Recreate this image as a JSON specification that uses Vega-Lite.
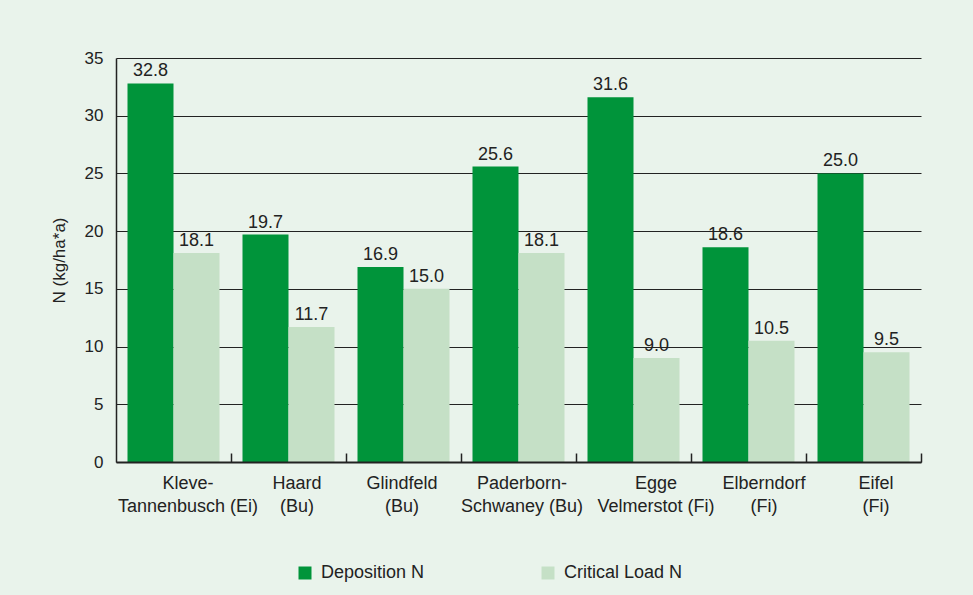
{
  "$schema": "https://vega.github.io/schema/vega-lite/v6.json",
  "width": 805,
  "height": 404,
  "autosize": {"type": "none"},
  "padding": {"left": 116, "top": 58, "right": 52, "bottom": 133},
  "background": "#e9f3eb",
  "config": {"view": {"stroke": null}, "font": "Liberation Sans"},
  "data": {
    "values": [
      {"site": "Kleve-|Tannenbusch (Ei)", "measure": "Deposition N", "value": 32.8},
      {"site": "Kleve-|Tannenbusch (Ei)", "measure": "Critical Load N", "value": 18.1},
      {"site": "Haard|(Bu)", "measure": "Deposition N", "value": 19.7},
      {"site": "Haard|(Bu)", "measure": "Critical Load N", "value": 11.7},
      {"site": "Glindfeld|(Bu)", "measure": "Deposition N", "value": 16.9},
      {"site": "Glindfeld|(Bu)", "measure": "Critical Load N", "value": 15.0},
      {"site": "Paderborn-|Schwaney (Bu)", "measure": "Deposition N", "value": 25.6},
      {"site": "Paderborn-|Schwaney (Bu)", "measure": "Critical Load N", "value": 18.1},
      {"site": "Egge|Velmerstot (Fi)", "measure": "Deposition N", "value": 31.6},
      {"site": "Egge|Velmerstot (Fi)", "measure": "Critical Load N", "value": 9.0},
      {"site": "Elberndorf|(Fi)", "measure": "Deposition N", "value": 18.6},
      {"site": "Elberndorf|(Fi)", "measure": "Critical Load N", "value": 10.5},
      {"site": "Eifel|(Fi)", "measure": "Deposition N", "value": 25.0},
      {"site": "Eifel|(Fi)", "measure": "Critical Load N", "value": 9.5}
    ]
  },
  "encoding": {
    "x": {
      "field": "site",
      "type": "nominal",
      "sort": null,
      "scale": {"paddingInner": 0.2, "paddingOuter": 0.1},
      "axis": {
        "title": null,
        "zindex": 1,
        "labelAngle": 0,
        "labelExpr": "split(datum.label, '|')",
        "labelFontSize": 18,
        "labelLineHeight": 23,
        "labelPadding": 21,
        "labelBaseline": "top",
        "labelOffset": {
          "condition": [
            {"test": "datum.value == 'Kleve-|Tannenbusch (Ei)'", "value": -43.5},
            {"test": "datum.value == 'Haard|(Bu)'", "value": -49.5},
            {"test": "datum.value == 'Glindfeld|(Bu)'", "value": -59.5},
            {"test": "datum.value == 'Paderborn-|Schwaney (Bu)'", "value": -54.5},
            {"test": "datum.value == 'Egge|Velmerstot (Fi)'", "value": -35.5},
            {"test": "datum.value == 'Elberndorf|(Fi)'", "value": -42.5}
          ],
          "value": -45.5
        },
        "labelColor": "#222222",
        "ticks": true,
        "tickOffset": 57.5,
        "tickSize": -9,
        "tickColor": "#222222",
        "tickWidth": 1.5,
        "domainColor": "#222222",
        "domainWidth": 2
      }
    },
    "xOffset": {
      "field": "measure",
      "type": "nominal",
      "sort": ["Deposition N", "Critical Load N"],
      "scale": {"paddingInner": 0, "paddingOuter": 0}
    },
    "y": {
      "field": "value",
      "type": "quantitative",
      "scale": {"domain": [0, 35], "nice": false},
      "axis": {
        "title": "N (kg/ha*a)",
        "values": [0, 5, 10, 15, 20, 25, 30, 35],
        "ticks": false,
        "labelFontSize": 17,
        "labelPadding": 13,
        "labelColor": "#222222",
        "titleFontSize": 17,
        "titleFontWeight": "normal",
        "titleColor": "#222222",
        "titlePadding": 16,
        "domainColor": "#222222",
        "domainWidth": 1.5,
        "gridColor": "#222222",
        "gridWidth": 1,
        "gridOpacity": 1
      }
    }
  },
  "layer": [
    {
      "mark": {"type": "bar"},
      "encoding": {
        "color": {
          "field": "measure",
          "type": "nominal",
          "sort": ["Deposition N", "Critical Load N"],
          "scale": {"domain": ["Deposition N", "Critical Load N"], "range": ["#00943a", "#c5e0c6"]},
          "legend": {
            "orient": "none",
            "legendX": 180,
            "legendY": 506,
            "direction": "horizontal",
            "title": null,
            "symbolType": "square",
            "symbolSize": 169,
            "symbolStrokeWidth": 0,
            "labelFontSize": 18,
            "labelColor": "#222222",
            "labelOffset": 7,
            "columnPadding": 114
          }
        }
      }
    },
    {
      "mark": {"type": "text", "dy": -7, "baseline": "alphabetic", "fontSize": 18, "color": "#222222"},
      "encoding": {
        "text": {"field": "value", "type": "quantitative", "format": ".1f"}
      }
    }
  ]
}
